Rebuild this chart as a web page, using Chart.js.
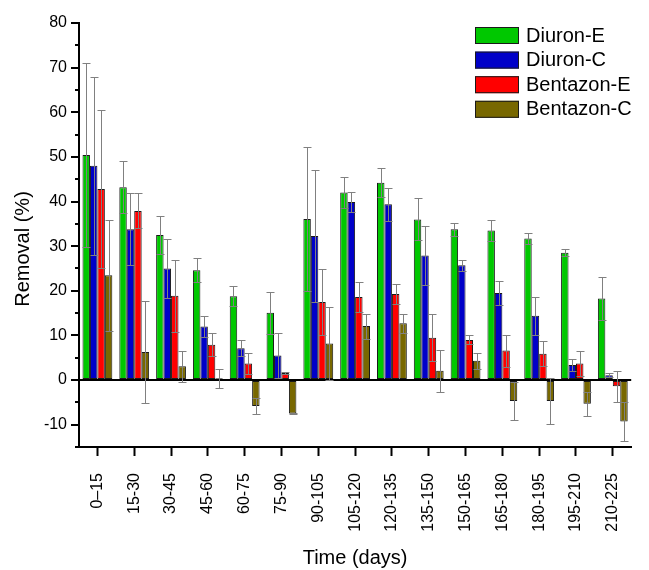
<!DOCTYPE html>
<html>
<head>
<meta charset="utf-8">
<title>Removal over time</title>
<script src="https://cdn.jsdelivr.net/npm/chart.js@4"></script>
<style>
  body { margin: 0; background: #fff; }
  canvas { display: block; }
</style>
</head>
<body>
<canvas id="myChart" width="649" height="570"></canvas>
<script>
// data
const categories = ["0–15", "15-30", "30-45", "45-60", "60-75", "75-90", "90-105", "105-120",
  "120-135", "135-150", "150-165", "165-180", "180-195", "195-210", "210-225"];

const diuronE = [50.4, 43.2, 32.5, 24.6, 18.8, 15.1, 36.1, 42.0, 44.2, 36.0, 33.8, 33.5, 31.7, 28.5, 18.3];
const diuronEErr = [20.7, 5.8, 4.3, 2.7, 2.3, 4.7, 16.2, 3.5, 3.2, 4.7, 1.5, 2.3, 1.2, 0.8, 4.9];
const diuronC = [48.0, 33.8, 25.0, 12.0, 7.1, 5.5, 32.3, 39.9, 39.4, 27.9, 25.7, 19.5, 14.4, 3.4, 1.1];
const diuronCErr = [20.0, 8.0, 6.6, 2.4, 1.8, 5.1, 14.7, 2.2, 3.7, 6.6, 1.2, 2.6, 4.2, 1.3, 0.4];
const bentazonE = [42.8, 37.9, 18.9, 7.9, 3.7, 1.6, 17.5, 18.6, 19.3, 9.5, 9.0, 6.6, 5.9, 3.7, -1.4];
const bentazonEErr = [17.7, 3.9, 8.1, 2.6, 2.4, 0.3, 7.4, 3.4, 2.2, 5.2, 1.0, 3.6, 2.8, 2.8, 3.5];
const bentazonC = [23.5, 6.3, 3.1, 0.4, -5.8, -7.5, 8.2, 12.1, 12.7, 2.1, 4.3, -4.7, -4.7, -5.3, -9.3];
const bentazonCErr = [12.4, 11.4, 3.5, 2.1, 1.8, 0.2, 8.1, 2.8, 2.2, 4.7, 1.8, 4.3, 5.2, 2.7, 4.3];

const yMin = -15;
const yMax = 80;

const FONT = "'Liberation Sans', Arial, sans-serif";

function series(label, values, errors, color) {
  return {
    label: label,
    data: values,
    errors: errors,
    backgroundColor: color,
    borderColor: "#1a1a1a",
    borderWidth: 1,
    borderSkipped: false,
    barPercentage: 1.0,
    categoryPercentage: 0.81,
  };
}

// error bars, minor ticks, y title and legend
const extras = {
  id: "extras",
  afterDatasetsDraw(chart) {
    const ctx = chart.ctx;
    const y = chart.scales.y;
    ctx.save();
    ctx.strokeStyle = "#808080";
    ctx.lineWidth = 1;
    chart.data.datasets.forEach((ds, i) => {
      chart.getDatasetMeta(i).data.forEach((bar, j) => {
        const v = ds.data[j];
        const e = ds.errors[j];
        const x = Math.round(bar.x) + 0.5;
        const top = Math.round(y.getPixelForValue(v + e)) + 0.5;
        const bot = Math.round(y.getPixelForValue(v - e)) + 0.5;
        ctx.beginPath();
        ctx.moveTo(x, top);
        ctx.lineTo(x, bot);
        ctx.moveTo(x - 4, top);
        ctx.lineTo(x + 4, top);
        ctx.moveTo(x - 4, bot);
        ctx.lineTo(x + 4, bot);
        ctx.stroke();
      });
    });
    ctx.restore();
  },
  afterDraw(chart) {
    const ctx = chart.ctx;
    const y = chart.scales.y;
    const area = chart.chartArea;
    ctx.save();

    // minor ticks at the odd fives
    ctx.strokeStyle = "#000";
    ctx.lineWidth = 2;
    y.ticks.forEach(t => {
      if (t.value % 10 !== 0) {
        const py = Math.round(y.getPixelForValue(t.value));
        ctx.beginPath();
        ctx.moveTo(area.left - 4, py);
        ctx.lineTo(area.left, py);
        ctx.stroke();
      }
    });

    // y title
    ctx.fillStyle = "#000";
    ctx.font = "20px " + FONT;
    ctx.textAlign = "center";
    ctx.textBaseline = "middle";
    ctx.translate(23, 249);
    ctx.rotate(-Math.PI / 2);
    ctx.fillText("Removal (%)", 0, 0);
    ctx.setTransform(1, 0, 0, 1, 0, 0);

    // legend
    const lx = 475, ly = 35, step = 24.6;
    ctx.textAlign = "left";
    chart.data.datasets.forEach((ds, i) => {
      const cy = ly + i * step;
      ctx.fillStyle = ds.backgroundColor;
      ctx.fillRect(lx, cy - 8, 44, 17);
      ctx.strokeStyle = "#1a1a1a";
      ctx.lineWidth = 1;
      ctx.strokeRect(lx + 0.5, cy - 7.5, 43, 16);
      ctx.fillStyle = "#000";
      ctx.fillText(ds.label, 526, cy + 1);
    });
    ctx.restore();
  },
};

document.addEventListener("DOMContentLoaded", function () {
  const ctx = document.getElementById("myChart").getContext("2d");

  const data = {
    labels: categories,
    datasets: [
      series("Diuron-E", diuronE, diuronEErr, "#00c800"),
      series("Diuron-C", diuronC, diuronCErr, "#0000c8"),
      series("Bentazon-E", bentazonE, bentazonEErr, "#ff0000"),
      series("Bentazon-C", bentazonC, bentazonCErr, "#786800"),
    ],
  };

  const options = {
    responsive: false,
    animation: false,
    layout: {
      padding: { top: 23, right: 0, bottom: 0, left: 0 },
    },
    plugins: {
      legend: { display: false },
      tooltip: { enabled: false },
    },
    scales: {
      x: {
        type: "category",
        offset: true,
        afterFit: scale => { scale.height = 123; },
        border: { display: true, color: "#000", width: 2 },
        grid: {
          drawOnChartArea: false,
          drawTicks: true,
          tickLength: 9,
          tickColor: "#000",
          tickWidth: 2,
          offset: false,
        },
        ticks: {
          color: "#000",
          font: { family: FONT, size: 16 },
          minRotation: 90,
          maxRotation: 90,
          autoSkip: false,
          padding: 17,
        },
        title: {
          display: true,
          text: "Time (days)",
          color: "#000",
          font: { family: FONT, size: 20 },
          padding: { top: 0, bottom: 0 },
        },
      },
      y: {
        min: yMin,
        max: yMax,
        afterFit: scale => { scale.width = 79; },
        border: { display: true, color: "#000", width: 2 },
        grid: {
          drawOnChartArea: true,
          drawTicks: true,
          tickLength: 8,
          color: c => (c.tick && c.tick.value === 0 ? "#000" : "rgba(0,0,0,0)"),
          lineWidth: c => (c.tick && c.tick.value === 0 ? 2 : 0),
          tickColor: c => (c.tick && c.tick.value % 10 === 0 ? "#000" : "rgba(0,0,0,0)"),
          tickWidth: 2,
        },
        ticks: {
          stepSize: 5,
          autoSkip: false,
          color: "#000",
          font: { family: FONT, size: 16 },
          padding: 4,
          callback: v => (v % 10 === 0 ? v : ""),
        },
      },
    },
  };

  new Chart(ctx, {
    type: "bar",
    data: data,
    options: options,
    plugins: [extras],
  });
});
</script>
</body>
</html>
